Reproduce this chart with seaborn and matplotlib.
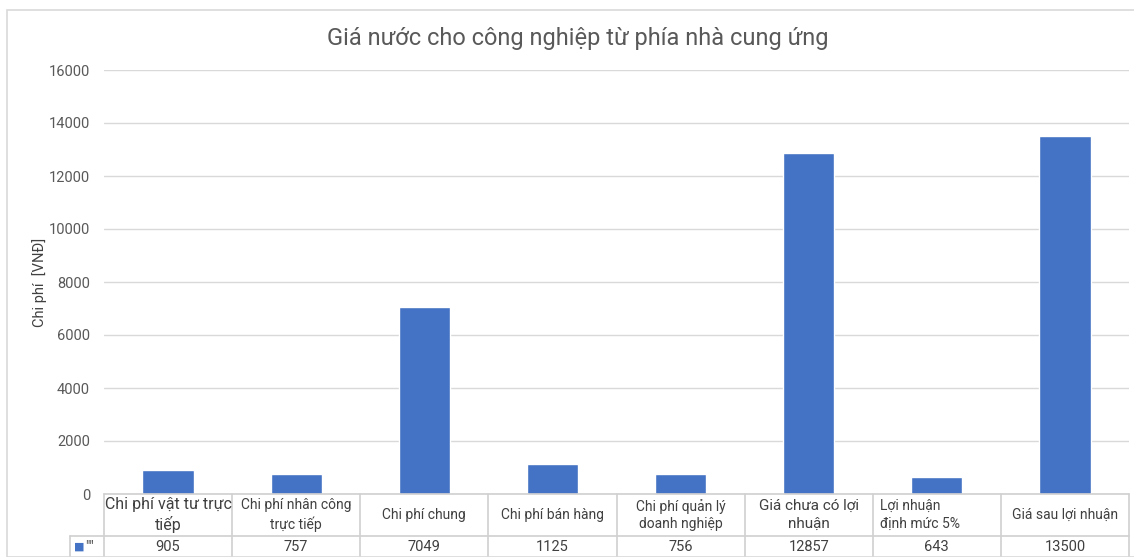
import matplotlib
matplotlib.use("Agg")
import matplotlib.pyplot as plt
import matplotlib.transforms as mtransforms
from matplotlib.patches import Rectangle
import seaborn as sns
import pandas as pd

categories = ["Chi phí vật tư trực\ntiếp", "Chi phí nhân công\ntrực tiếp", "Chi phí chung",
              "Chi phí bán hàng", "Chi phí quản lý\ndoanh nghiệp", "Giá chưa có lợi\nnhuận",
              "Lợi nhuận\nđịnh mức 5%", "Giá sau lợi nhuận"]
values = [905, 757, 7049, 1125, 756, 12857, 643, 13500]
series_name = '""'
yticks = [0, 2000, 4000, 6000, 8000, 10000, 12000, 14000, 16000]

sns.set_theme(style="white")
plt.rcParams["font.family"] = ["Roboto", "DejaVu Sans"]

W, H = 1134, 557
fig = plt.figure(figsize=(W / 100, H / 100), dpi=100)
# chart frame like Excel
fig.patches.append(Rectangle((7 / W, 0), 1.2, 1 - 10 / H, transform=fig.transFigure,
                             fill=False, edgecolor="#d9d9d9", lw=1.2))

left, right, top, bottom = 104, 1129, 70, 494
ax = fig.add_axes([left / W, 1 - bottom / H, (right - left) / W, (bottom - top) / H])

df = pd.DataFrame({"cat": categories, "val": values})
sns.barplot(data=df, x="cat", y="val", color="#4472C4", width=0.4, saturation=1, ax=ax)

ax.set_xlim(-0.5, len(categories) - 0.5)
ax.set_ylim(0, 16000)
ax.set_yticks(yticks)
ax.set_yticklabels([str(t) for t in yticks], color="#595959", fontsize=10.5)
ax.tick_params(axis="y", length=0, pad=10)
ax.set_xticks([])
ax.set_xlabel("")
ax.set_ylabel("Chi phí  [VNĐ]", color="#404040", fontsize=10.5, labelpad=1)
ax.yaxis.grid(True, color="#d9d9d9", lw=1)
ax.set_axisbelow(True)
for s in ax.spines.values():
    s.set_visible(False)

fig.text(578 / W, 1 - 38 / H, "Giá nước cho công nghiệp từ phía nhà cung ứng",
         ha="center", va="center", fontsize=17, color="#595959")

# data table under the plot
tr = mtransforms.blended_transform_factory(ax.transData, ax.transAxes)
ph = bottom - top
h1 = 42 / ph
h2 = 64 / ph
n = len(categories)
lab_w = 34 / ((right - left) / n)
lc = "#d0d0d0"
ax.plot([-0.5, n - 0.5], [0, 0], color=lc, lw=1.2, transform=tr, clip_on=False)
ax.plot([-0.5 - lab_w, n - 0.5], [-h1, -h1], color=lc, lw=1.2, transform=tr, clip_on=False)
for i in range(n + 1):
    ax.plot([i - 0.5, i - 0.5], [0, -h2], color=lc, lw=1.2, transform=tr, clip_on=False)
ax.plot([-0.5 - lab_w] * 2, [-h1, -h2], color=lc, lw=1.2, transform=tr, clip_on=False)

sizes = [11.5, 10, 10, 10, 10, 11, 10, 10]
for i, (c, v) in enumerate(zip(categories, values)):
    if c.startswith("Lợi"):
        ax.text(i - 0.44, -h1 / 2, c, ha="left", va="center", fontsize=sizes[i],
                color="#404040", transform=tr, linespacing=1.3)
    else:
        ax.text(i, -h1 / 2, c, ha="center", va="center", fontsize=sizes[i],
                color="#404040", transform=tr, linespacing=1.3)
    ax.text(i, -(h1 + 11 / ph), str(v), ha="center", va="center", fontsize=10.5,
            color="#404040", transform=tr)

ax.text(-0.5 - lab_w + 0.03, -(h1 + 11 / ph), "■", ha="left", va="center", fontsize=8,
        color="#4472C4", transform=tr)
ax.text(-0.5 - lab_w + 0.12, -(h1 + 11 / ph), series_name, ha="left", va="center",
        fontsize=10, color="#595959", transform=tr)

fig.savefig("out.png", dpi=100)
